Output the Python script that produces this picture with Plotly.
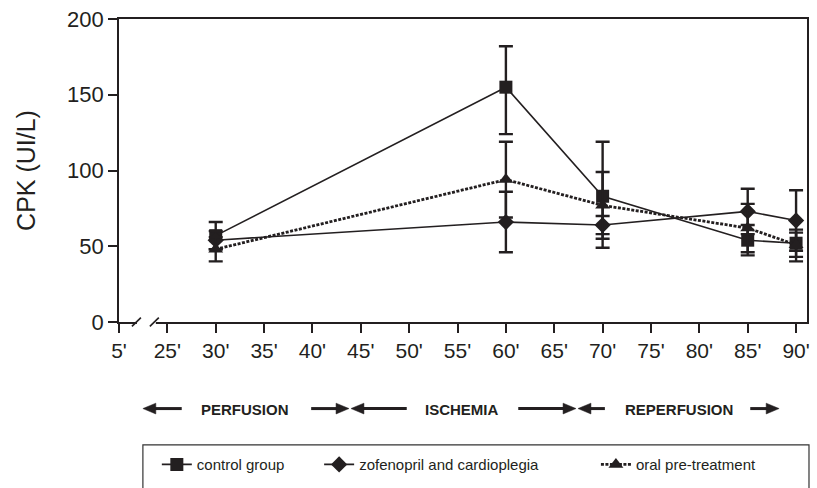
import plotly.graph_objects as go

# ---- data ----
tick_labels = ["5'", "25'", "30'", "35'", "40'", "45'", "50'", "55'", "60'",
               "65'", "70'", "75'", "80'", "85'", "90'"]
times = ["30'", "60'", "70'", "85'", "90'"]

control = [57, 155, 83, 54, 52]
control_plus = [9, 27, 36, 10, 9]
control_minus = [9, 31, 34, 10, 12]

zofenopril = [54, 66, 64, 73, 67]
zofenopril_err = [6, 20, 6, 15, 20]

oral = [48, 94, 77, 62, 51]
oral_err = [8, 25, 22, 16, 8]

phases = ["PERFUSION", "ISCHEMIA", "REPERFUSION"]
series_names = ["control group", "zofenopril and cardioplegia", "oral pre-treatment"]

INK = "#231f20"
FONT = "Liberation Sans, Arial, sans-serif"

W, H = 817, 488
L, R, T, B = 119, 7, 15, 165
PW, PH = W - L - R, H - T - B


def px(x):
    return (x - L) / PW


def py(y):
    return (H - B - y) / PH


fig = go.Figure()

err_style = dict(type="data", color=INK, thickness=2.4, width=7)

fig.add_trace(go.Scatter(
    x=times, y=control, name=series_names[0], mode="lines+markers",
    line=dict(color=INK, width=1.6),
    marker=dict(symbol="square", size=13, color=INK),
    error_y=dict(array=control_plus, arrayminus=control_minus, symmetric=False, **err_style),
    legend="legend",
))
fig.add_trace(go.Scatter(
    x=times, y=zofenopril, name=series_names[1], mode="lines+markers",
    line=dict(color=INK, width=1.6),
    marker=dict(symbol="diamond", size=12.5, color=INK),
    error_y=dict(array=zofenopril_err, **err_style),
    legend="legend2",
))
fig.add_trace(go.Scatter(
    x=times, y=oral, name=series_names[2], mode="lines+markers",
    line=dict(color=INK, width=2.8, dash="3px,1.5px"),
    marker=dict(symbol="triangle-up", size=13, color=INK),
    error_y=dict(array=oral_err, **err_style),
    legend="legend3",
))

shapes = []
annotations = []

# axis break on x axis (between 5' and 25')
y_ax = py(H - B)
shapes.append(dict(type="line", xref="paper", yref="paper", x0=px(137), x1=px(156),
                   y0=y_ax, y1=y_ax, line=dict(color="white", width=4), layer="above"))
for xs in (132, 150):
    shapes.append(dict(type="line", xref="paper", yref="paper",
                       x0=px(xs), x1=px(xs + 9), y0=py(327.5), y1=py(318.5),
                       line=dict(color=INK, width=1.6), layer="above"))

# phase arrows
ARR_Y = 411
arrows = [(143, 182), (350, 312), (352, 408), (578, 520), (580, 607), (782, 753)]
for tip, tail in arrows:
    d = 1 if tip > tail else -1
    shapes.append(dict(type="line", xref="paper", yref="paper",
                       x0=px(tail), x1=px(tip - d * 12),
                       y0=py(ARR_Y), y1=py(ARR_Y), line=dict(color=INK, width=3)))
    base = tip - d * 13
    path = "M {:.5f},{:.5f} L {:.5f},{:.5f} L {:.5f},{:.5f} Z".format(
        px(tip), py(ARR_Y), px(base), py(ARR_Y - 5.5), px(base), py(ARR_Y + 5.5))
    shapes.append(dict(type="path", xref="paper", yref="paper", path=path,
                       fillcolor=INK, line=dict(color=INK, width=0.5)))

for label, cx in zip(phases, (246, 463, 681)):
    annotations.append(dict(text="<b>" + label + "</b>", xref="paper", yref="paper",
                            x=px(cx), y=py(ARR_Y + 1), xanchor="center", yanchor="middle",
                            showarrow=False, font=dict(family=FONT, size=15, color=INK)))

# legend box (runs past the bottom edge as in the original)
shapes.append(dict(type="rect", xref="paper", yref="paper",
                   x0=px(143), x1=px(812), y0=py(448), y1=py(520),
                   line=dict(color="#333333", width=1.2), fillcolor="rgba(0,0,0,0)"))

leg_common = dict(orientation="h", yanchor="middle", xanchor="left", y=py(468),
                  bgcolor="rgba(0,0,0,0)", borderwidth=0,
                  font=dict(family=FONT, size=15, color=INK))

fig.update_layout(
    width=W, height=H,
    margin=dict(l=L, r=R, t=T, b=B, pad=0),
    paper_bgcolor="white", plot_bgcolor="white",
    font=dict(family=FONT, color=INK),
    showlegend=True,
    legend=dict(x=px(157), **leg_common),
    legend2=dict(x=px(320), **leg_common),
    legend3=dict(x=px(598), **leg_common),
    shapes=shapes,
    annotations=annotations,
)

fig.update_xaxes(
    type="category", categoryorder="array", categoryarray=tick_labels,
    tickvals=tick_labels, ticktext=tick_labels,
    range=[0, 14.226],
    showline=True, linecolor=INK, linewidth=1.6, mirror=True,
    ticks="outside", ticklen=9, tickwidth=1.6, tickcolor=INK,
    showgrid=False, zeroline=False,
    tickfont=dict(family=FONT, size=21, color=INK),
)
fig.update_yaxes(
    range=[0, 200], tickvals=[0, 50, 100, 150, 200],
    showline=True, linecolor=INK, linewidth=1.6, mirror=True,
    ticks="outside", ticklen=9, tickwidth=1.6, tickcolor=INK,
    showgrid=False, zeroline=False,
    tickfont=dict(family=FONT, size=22, color=INK),
    title=dict(text="CPK (UI/L)", font=dict(family=FONT, size=25, color=INK), standoff=24),
)

fig.write_html("out.html")
